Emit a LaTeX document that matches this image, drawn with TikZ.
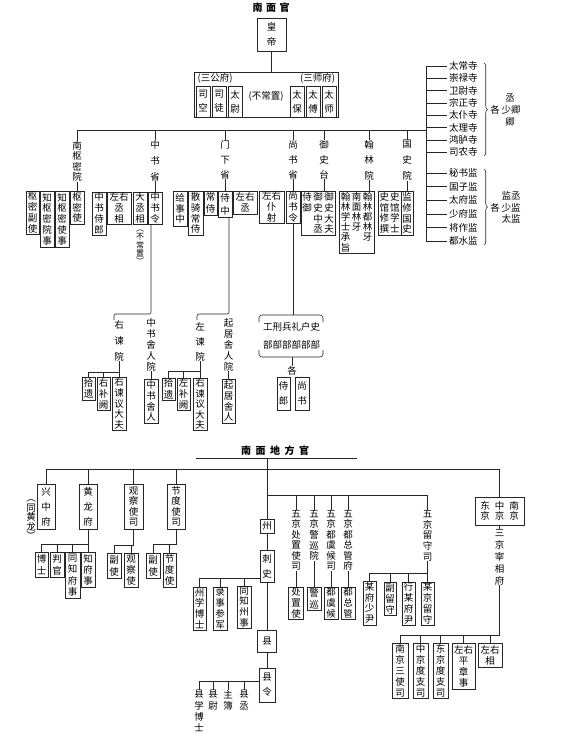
\documentclass[tikz,border=0pt]{standalone}
\usepackage{fontspec}
\newfontfamily\cjk{Noto Sans CJK SC}
\usetikzlibrary{decorations.pathreplacing}
\newlength\vcgap
\setlength\vcgap{10.8pt}
\def\vcendmark{\vcendmark}
\def\vcii#1{\def\vctmp{#1}\ifx\vctmp\vcendmark\else\hbox to 1em{\hss#1\hss}\expandafter\vcii\fi}
\newcommand\vc[1]{\vtop{\baselineskip=\vcgap\lineskiplimit=-100pt\lineskip=0pt\relax\vcii#1\vcendmark}}
\newcommand\cjkf{\cjk\fontsize{9.5}{11}\selectfont}
\tikzset{
 bx/.style={draw=black!85, line width=0.6pt, inner sep=0pt, font=\cjkf, fill=white},
 tx/.style={inner sep=0pt, font=\cjkf},
 ln/.style={draw=black!85, line width=0.6pt},
 ttl/.style={inner sep=0pt, font=\cjk\bfseries\fontsize{10}{12}\selectfont},
}
\newcommand\B[7][10.8pt]{\node[bx, minimum width={(#5)-(#3)}, minimum height={(#6)-(#4)}] (#2) at ({((#3)+(#5))/2},{((#4)+(#6))/2}) {\setlength\vcgap{#1}\vc{#7}};}
\newcommand\T[5][10.8pt]{\node[tx, anchor=north] (#2) at (#3,#4) {\setlength\vcgap{#1}\vc{#5}};}
\begin{document}
\begin{tikzpicture}[x=1pt,y=-1pt]
\useasboundingbox (0,0) rectangle (565,739);
\fill[white] (0,0) rectangle (565,739);

% ---------- top ----------
\node[ttl] (t1) at (271,8) {南\hspace{3.5pt}面\hspace{3.5pt}官};
\B[15pt]{hd}{257}{18}{286}{51}{皇帝}
\node[bx, minimum width=144, minimum height=45] (sg) at (266,94.5) {};
\draw[ln] (hd.south) -- (hd.south |- sg.north);
\node[tx] (sgf) at (215,78.5) {(三公府)};
\node[tx] (ssf) at (317.5,78.5) {(三师府)};
\node[tx] (bcz) at (266,96) {(不常置)};
\B[14pt]{sk}{196}{86}{210}{117}{司空}
\B[14pt]{st}{212}{86}{226}{117}{司徒}
\B[14pt]{tw}{228}{86}{242}{117}{太尉}
\B[14pt]{tb}{290}{86}{304}{117}{太保}
\B[14pt]{tf}{306}{86}{320}{117}{太傅}
\B[14pt]{ts}{322}{86}{336}{117}{太师}

% main bus
\coordinate (busA) at (77,130);
\coordinate (busB) at (426,130);
\draw[ln] (busA) -- (busB);
\coordinate (lt) at (426,66);
\coordinate (lb) at (426,241);
\draw[ln] (lt) -- (lb);
\foreach \i/\y/\t in {1/66/太常寺,2/78.3/崇禄寺,3/90.6/卫尉寺,4/102.9/宗正寺,5/115.2/太仆寺,6/127.5/太理寺,7/139.8/鸿胪寺,8/152.1/司农寺}
 {\node[tx, anchor=west] (s\i) at (449,\y) {\t};
  \draw[ln] (s\i.west -| lt) -- ([xshift=-2pt]s\i.west);}
\foreach \i/\y/\t in {1/173/秘书监,2/186.6/国子监,3/200.2/太府监,4/213.8/少府监,5/227.4/将作监,6/241/都水监}
 {\node[tx, anchor=west] (m\i) at (449,\y) {\t};
  \draw[ln] (m\i.west -| lt) -- ([xshift=-2pt]m\i.west);}
\draw[ln, decorate, decoration={brace, amplitude=3.5pt}] (484,63) -- (484,156);
\draw[ln, decorate, decoration={brace, amplitude=3.5pt}] (484,169) -- (484,245);
\node[tx] (q1) at (510,98) {丞};
\node[tx] (q2) at (495,110) {各};
\node[tx] (q3) at (511,110) {少卿};
\node[tx] (q4) at (510,121.5) {卿};
\node[tx] (j1) at (511,196) {监丞};
\node[tx] (j2) at (495,207.5) {各};
\node[tx] (j3) at (511,207.5) {少监};
\node[tx] (j4) at (511,219) {太监};

% 南枢密院
\T[10.5pt]{nsm}{77}{141}{南枢密院}
\draw[ln] (nsm.north) -- (nsm.north |- busA);
\B{smsh}{70}{191}{84}{224}{枢密使}
\B{zsms}{55}{191}{69}{247}{知枢密使事}
\B{zsmy}{40}{191}{54}{247}{知枢密院事}
\B{smfs}{26}{191}{39}{234}{枢密副使}
\draw[ln] (nsm.south) -- (smsh.north);

% 中书省
\T[16pt]{zss}{155}{140}{中书省}
\draw[ln] (zss.north) -- (zss.north |- busA);
\B{zsl}{148}{192}{162}{224}{中书令}
\B{dcx}{133}{192}{147}{224}{大丞相}
\B{zycx}{107}{192}{131}{224}{{左右}丞相}
\B{zssl}{92}{192}{106}{235}{中书侍郎}
\draw[ln] (zss.south) -- (zsl.north);
\node[tx, anchor=north, font=\cjk\fontsize{8}{9}\selectfont] (bcz2) at (140,230) {\setlength\vcgap{8.2pt}\vc{︵不常置︶}};
\coordinate (zsbar) at (151,314);
\coordinate (zsbarl) at (114,320);
\draw[ln, rounded corners=2pt] ([xshift=-4pt]zsl.south) -- (zsbar) -| (zsbarl);

\T[16pt]{yjy}{119}{320}{右谏院}
\coordinate (yb) at (119,372);
\B[11.5pt]{sy1}{82}{377}{95}{400}{拾遗}
\B[11pt]{ybq}{97}{377}{110}{410}{右补阙}
\B[10.6pt]{yjd}{112}{377}{126}{430}{右谏议大夫}
\draw[ln] (yjy.south) -- (yjd.north);
\draw[ln] (sy1.north) -- (sy1.north |- yb) -- (yb);
\draw[ln] (ybq.north) -- (ybq.north |- yb);
\T[11pt]{zsry}{151}{318}{中书舍人院}
\B{zsr}{144}{379}{158}{423}{中书舍人}
\draw[ln] (zsry.south) -- (zsr.north);

% 门下省
\T[15pt]{mxs}{225}{140}{门下省}
\draw[ln] (mxs.north) -- (mxs.north |- busA);
\B[13pt]{sz}{218}{191}{232}{217}{侍中}
\B[11pt]{zyc}{233}{191}{257}{214}{{左右}丞}
\B[12pt]{cs}{204}{191}{217}{215}{常侍}
\B{sqcs}{188}{191}{203}{235}{散骑常侍}
\B{gsz}{173}{191}{187}{226}{给事中}
\draw[ln] (mxs.south) -- (sz.north);
\coordinate (mxbar) at (229,314);
\coordinate (mxbarl) at (197,320);
\draw[ln, rounded corners=2pt] ([xshift=4pt]sz.south) -- (mxbar) -| (mxbarl);

\T[15pt]{zjy}{200}{322}{左谏院}
\coordinate (zb2) at (200,371);
\B[11.5pt]{sy2}{162}{378}{175}{400}{拾遗}
\B[11pt]{zbq}{177}{378}{190}{410}{左补阙}
\B[10.6pt]{yjd2}{193}{378}{207}{430}{右谏议大夫}
\draw[ln] (zjy.south) -- (yjd2.north);
\draw[ln] (sy2.north) -- (sy2.north |- zb2) -- (zb2);
\draw[ln] (zbq.north) -- (zbq.north |- zb2);
\T[11pt]{qjy}{228.5}{318}{起居舍人院}
\B{qjr}{222}{379}{235}{423}{起居舍人}
\draw[ln] (qjy.south) -- (qjr.north);

% 尚书省
\T[15pt]{sss}{293}{140}{尚书省}
\draw[ln] (sss.north) -- (sss.north |- busA);
\B{ssl}{286}{191}{300}{223}{尚书令}
\B{zypy}{259}{191}{284}{223}{{左右}仆射}
\draw[ln] (sss.south) -- (ssl.north);
\coordinate (bt) at (293,315);
\draw[ln] (ssl.south) -- (bt);
\draw[ln, rounded corners=3pt] (259,322) -- (259,315) -- (323,315) -- (323,322);
\draw[ln, rounded corners=3pt] (259,350) -- (259,357) -- (323,357) -- (323,350);
\node[tx, align=center] (bu) at (291.5,336) {工刑兵礼户史\\[7pt]部部部部部部};
\coordinate (bb) at (292,357);
\node[tx] (ge) at (292,371) {各};
\draw[ln] (bb) -- (ge.north);
\B[15pt]{sl2}{277}{377}{290}{410}{侍郎}
\B[15pt]{ss2}{295}{377}{309}{410}{尚书}

% 御史台
\T[15pt]{yst}{324}{140}{御史台}
\draw[ln] (yst.north) -- (yst.north |- busA);
\node[bx, minimum width=34, minimum height=44] (ysb) at (318,213) {\setlength\vcgap{10.8pt}\vc{侍御}\kern1.5pt\vc{御史中丞}\kern1.5pt\vc{御史大夫}};
\draw[ln] (yst.south) -- (yst.south |- ysb.north);

% 翰林院
\T[15.5pt]{hly}{369}{140}{翰林院}
\draw[ln] (hly.north) -- (hly.north |- busA);
\node[bx, minimum width=35, minimum height=62] (hlb) at (356.5,222) {\setlength\vcgap{10.2pt}\vc{翰林学士承旨}\kern1.5pt\vc{南面林牙}\kern1.5pt\vc{翰林都林牙}};
\draw[ln] (hly.south) -- (hly.south |- hlb.north);

% 国史院
\T[16pt]{gsy}{407}{140}{国史院}
\draw[ln] (gsy.north) -- (gsy.north |- busA);
\node[bx, minimum width=23, minimum height=44] (gs2) at (389.5,213) {\setlength\vcgap{10.8pt}\vc{史馆修撰}\kern1pt\vc{史馆学士}};
\B{gs1}{401}{191}{413}{235}{监修国史}
\draw[ln] (gsy.south) -- (gs1.north);

% ---------- bottom ----------
\node[ttl] (t2) at (275,451) {南\hspace{4.5pt}面\hspace{4.5pt}地\hspace{4.5pt}方\hspace{4.5pt}官};
\coordinate (ulA) at (196,458);
\coordinate (ulB) at (357,458);
\coordinate (ulM) at (267,458);
\draw[ln] (ulA) -- (ulB);
\coordinate (b2A) at (46,469);
\coordinate (b2B) at (499.5,469);
\draw[ln] (b2A) -- (b2B);
\coordinate (b4A) at (267,495);
\coordinate (b4B) at (427,495);
\draw[ln] (b4A) -- (b4B);
\B[11pt]{zhou}{260}{519}{274}{533}{州}
\draw[ln] (ulM) -- (zhou.north);

% 兴中府 / 黄龙府
\B[15pt]{xzf}{37}{484}{55}{529}{兴中府}
\draw[ln] (b2A) -- (xzf.north);
\node[tx, anchor=north] (thl) at (31,500) {\setlength\vcgap{9.5pt}\vc{︵同黄龙︶}};
\B[15pt]{hlf}{79}{484}{97}{529}{黄龙府}
\draw[ln] (hlf.north |- b2A) -- (hlf.north);
\B[12pt]{bs}{35}{552}{48}{577}{博士}
\B[12pt]{pg}{50}{552}{64}{577}{判官}
\B[11.3pt]{tzfs}{65}{552}{80}{598}{同知府事}
\B[11pt]{zfs}{81}{552}{95}{587}{知府事}
\coordinate (hb) at (88,544);
\draw[ln] (hlf.south) -- (zfs.north);
\draw[ln] (bs.north) -- (bs.north |- hb) -- (hb);
\draw[ln] (pg.north) -- (pg.north |- hb);
\draw[ln] (tzfs.north) -- (tzfs.north |- hb);

% 观察使司
\B[10.5pt]{gcss}{124}{484}{143}{529}{观察使司}
\draw[ln] (gcss.north |- b2A) -- (gcss.north);
\B[12pt]{fs1}{107}{553}{121}{578}{副使}
\B[11pt]{gcs}{124}{553}{138}{587}{观察使}
\coordinate (gb) at (133.5,545);
\draw[ln] (gcss.south) -- (gb) -- (fs1.north |- gb) -- (fs1.north);
\draw[ln] (gcs.north |- gb) -- (gcs.north);

% 节度使司
\B[10.5pt]{jdss}{167}{484}{185}{529}{节度使司}
\draw[ln] (jdss.north |- b2A) -- (jdss.north);
\B[12pt]{fs2}{146}{553}{160}{578}{副使}
\B[11pt]{jds}{163}{553}{176}{587}{节度使}
\coordinate (jb) at (176,544);
\draw[ln] (jdss.south) -- (jb) -- (fs2.north |- jb) -- (fs2.north);
\draw[ln] (jds.north |- jb) -- (jds.north);

% 三京
\node[bx, minimum width=49, minimum height=28] (sjb) at (499.5,511) {\setlength\vcgap{10pt}\vc{东京}\kern5pt\vc{中京}\kern5pt\vc{南京}};
\draw[ln] (b2B) -- (sjb.north);
\T[12pt]{sjz}{499.5}{529}{三京宰相府}
\draw[ln] (sjb.south) -- (sjz.north);
\coordinate (sb) at (499.5,635);
\draw[ln] (sjz.south) -- (sb);
\B[11pt]{nj3}{392}{643}{408}{698}{南京三使司}
\B[11pt]{zjd}{413}{643}{428}{698}{中京度支司}
\B[11pt]{djd}{433}{643}{448}{698}{东京度支司}
\B[11pt]{zyp}{452}{643}{475}{689}{{左右}平章事}
\B[11pt]{zyx}{478}{643}{502}{667}{{左右}相}
\draw[ln] (sb) -- (nj3.north |- sb) -- (nj3.north);
\foreach \n in {zjd,djd,zyp,zyx} \draw[ln] (\n.north |- sb) -- (\n.north);

% 州 / 县
\B[15pt]{cshi}{260}{550}{274}{582}{刺史}
\draw[ln] (zhou.south) -- (cshi.north);
\B[11pt]{xian}{257.5}{630}{276.5}{652}{县}
\draw[ln] (cshi.south) -- (xian.north);
\B[15pt]{xl}{259}{668}{275}{702}{县令}
\draw[ln] (xian.south) -- (xl.north);
\coordinate (cb) at (260,578);
\B{zxbs}{193}{587}{206}{630}{州学博士}
\B{lscj}{213}{587}{227}{630}{录事参军}
\B{tzzs}{237}{586}{251}{628}{同知州事}
\draw[ln] (cb) -- (zxbs.north |- cb) -- (zxbs.north);
\draw[ln] (lscj.north |- cb) -- (lscj.north);
\draw[ln] (tzzs.north |- cb) -- (tzzs.north);
\coordinate (xb) at (259,681);
\T[11.3pt]{xxbs}{199}{690}{县学博士}
\T[11.3pt]{xw}{213}{690}{县尉}
\T[11.3pt]{zhub}{228}{690}{主簿}
\T[11.3pt]{xc}{244}{690}{县丞}
\draw[ln] (xb) -- (xxbs.north |- xb) -- (xxbs.north);
\foreach \n in {xw,zhub,xc} \draw[ln] (\n.north |- xb) -- (\n.north);

% 五京
\T[10.5pt]{wj1}{296}{510}{五京处置使司}
\T[10.6pt]{wj2}{314}{510}{五京警巡院}
\T[10.5pt]{wj3}{331}{510}{五京都虞候司}
\T[10.5pt]{wj4}{348}{510}{五京都总管府}
\foreach \n in {wj1,wj2,wj3,wj4} \draw[ln] (\n.north |- b4A) -- (\n.north);
\B{czs}{288.5}{587}{303.5}{619}{处置使}
\B[12pt]{jx}{307}{587}{321}{610}{警巡}
\B{dyh}{324}{587}{338}{619}{都虞候}
\B{dzg}{341}{587}{355}{619}{都总管}
\draw[ln] (wj1.south) -- (czs.north);
\draw[ln] (wj2.south) -- (jx.north);
\draw[ln] (wj3.south) -- (dyh.north);
\draw[ln] (wj4.south) -- (dzg.north);

\T[10.8pt]{wjls}{427.5}{510}{五京留守司}
\draw[ln] (b4B) -- (b4B |- wjls.north);
\coordinate (lb2) at (427.5,573);
\B{mfsy}{363}{581}{376}{625}{某府少尹}
\B[11pt]{fls}{384}{582}{396}{615}{副留守}
\B{xmfy}{402}{582}{415}{625}{行某府尹}
\B{mjls}{421}{582}{434}{625}{某京留守}
\draw[ln] (wjls.south) -- (mjls.north);
\draw[ln] (lb2) -- (mfsy.north |- lb2) -- (mfsy.north);
\draw[ln] (fls.north |- lb2) -- (fls.north);
\draw[ln] (xmfy.north |- lb2) -- (xmfy.north);
\end{tikzpicture}
\end{document}
